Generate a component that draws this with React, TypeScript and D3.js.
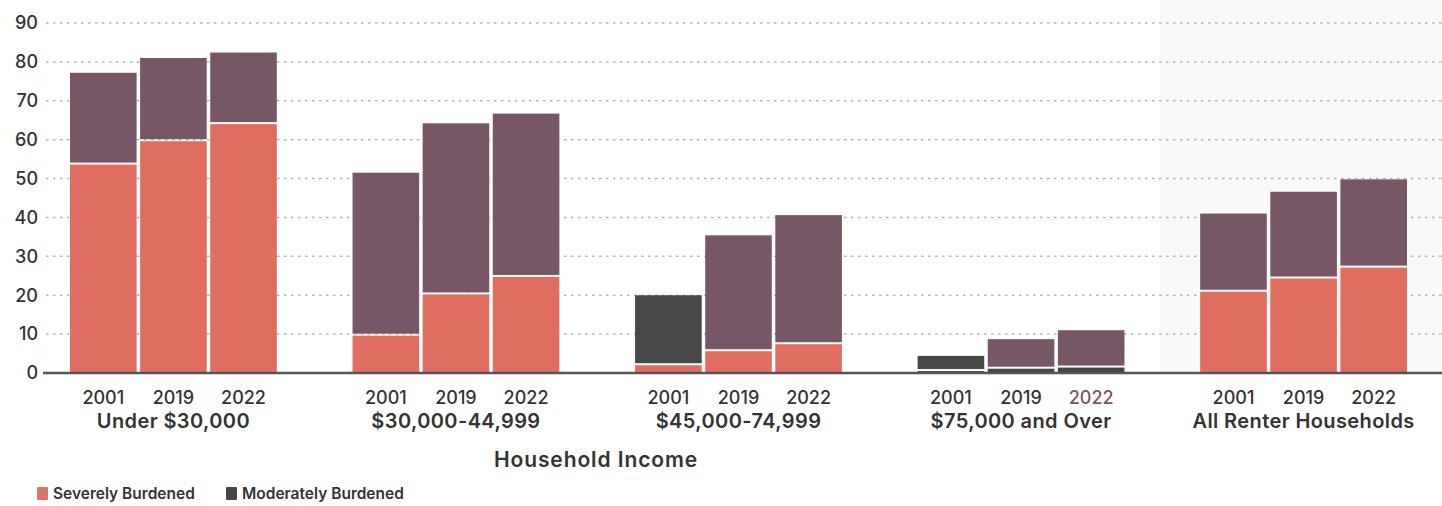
import React from "react";
import * as d3 from "d3";

const groups = ["Under $30,000", "$30,000-44,999", "$45,000-74,999", "$75,000 and Over", "All Renter Households"];
const years = ["2001", "2019", "2022"];
// values per group, in years order
const severe = [
  [53.6, 59.6, 64.0],
  [9.6, 20.2, 24.7],
  [2.0, 5.6, 7.4],
  [0.5, 1.1, 1.4],
  [20.9, 24.3, 27.1],
];
const moderate = [
  [23.6, 21.4, 18.4],
  [41.9, 44.0, 42.0],
  [18.0, 29.8, 33.2],
  [3.9, 7.6, 9.6],
  [20.1, 22.3, 22.7],
];
const yTicks = [0, 10, 20, 30, 40, 50, 60, 70, 80, 90];
const legendItems = ["Severely Burdened", "Moderately Burdened"];

const W = 1442;
const H = 506;
const FONT = "Inter, 'Open Sans', sans-serif";
const C_SEV = "#df6e60";
const C_MOD = "#775666";
const C_DARK = "#474747";

// scan quirks: some bars rendered in dark grey
const modColor = (g: number, y: number) => ((g === 2 || g === 3) && y === 0 ? C_DARK : C_MOD);
const sevColor = (g: number, y: number) => (g === 3 ? C_DARK : C_SEV);
const yearColor = (g: number, y: number) => (g === 3 && y === 2 ? "#7a5566" : "#333");

export default function App() {
  const y = d3.scaleLinear().domain([0, 90]).range([373, 23]);
  const x0 = d3.scaleBand<string>().domain(groups).range([70, 1407]).paddingInner(0.268).paddingOuter(0);
  const x1 = d3.scaleBand<string>().domain(years).range([0, x0.bandwidth()]).paddingInner(0.05).paddingOuter(0);

  return (
    <div style={{ position: "absolute", left: 0, top: 0 }}>
      <svg width={W} height={H} style={{ display: "block", background: "#fff" }}>
        <rect x={1160} y={0} width={W - 1160} height={373} fill="#f9f9f9" />
        {yTicks.map((t) => (
          <g key={t}>
            {t > 0 && (
              <line x1={46} x2={W} y1={y(t)} y2={y(t)} stroke="#b5b5b5" strokeWidth={1.5} strokeDasharray="2.5 4.5" />
            )}
            <text x={38} y={y(t)} dy="0.35em" textAnchor="end" fontFamily={FONT} fontSize={18} fontWeight={500} fill="#333">
              {t}
            </text>
          </g>
        ))}
        {groups.map((g, gi) => {
          const gx = x0(g)!;
          return (
            <g key={g}>
              {years.map((yr, yi) => {
                const bx = gx + x1(yr)!;
                const bw = x1.bandwidth();
                const s = severe[gi][yi];
                const m = moderate[gi][yi];
                const ySev = y(s);
                const yTot = y(s + m);
                return (
                  <g key={yr}>
                    <rect x={bx} y={ySev} width={bw} height={y(0) - ySev} fill={sevColor(gi, yi)} />
                    <rect x={bx} y={yTot} width={bw} height={Math.max(0, ySev - yTot - 2)} fill={modColor(gi, yi)} />
                    <text x={bx + bw / 2} y={398} dy="0.35em" textAnchor="middle" fontFamily={FONT} fontSize={18} fontWeight={500} fill={yearColor(gi, yi)}>
                      {yr}
                    </text>
                  </g>
                );
              })}
              <text x={gx + x0.bandwidth() / 2} y={421} dy="0.35em" textAnchor="middle" fontFamily={FONT} fontSize={20} fontWeight={600} letterSpacing={0.4} fill="#333">
                {g}
              </text>
            </g>
          );
        })}
        <line x1={43} x2={W} y1={y(0)} y2={y(0)} stroke="#555" strokeWidth={2.5} />
        <text x={596} y={460} dy="0.35em" textAnchor="middle" fontFamily={FONT} fontSize={21} fontWeight={600} letterSpacing={0.9} fill="#333">
          Household Income
        </text>
        {legendItems.map((l, i) => {
          const lx = i === 0 ? 37 : 226;
          return (
            <g key={l}>
              <rect x={lx} y={487} width={11} height={13} rx={1} fill={i === 0 ? "#d9776f" : C_DARK} />
              <text x={lx + 16} y={494} dy="0.35em" fontFamily={FONT} fontSize={15.5} fontWeight={600} fill="#333">
                {l}
              </text>
            </g>
          );
        })}
      </svg>
    </div>
  );
}
